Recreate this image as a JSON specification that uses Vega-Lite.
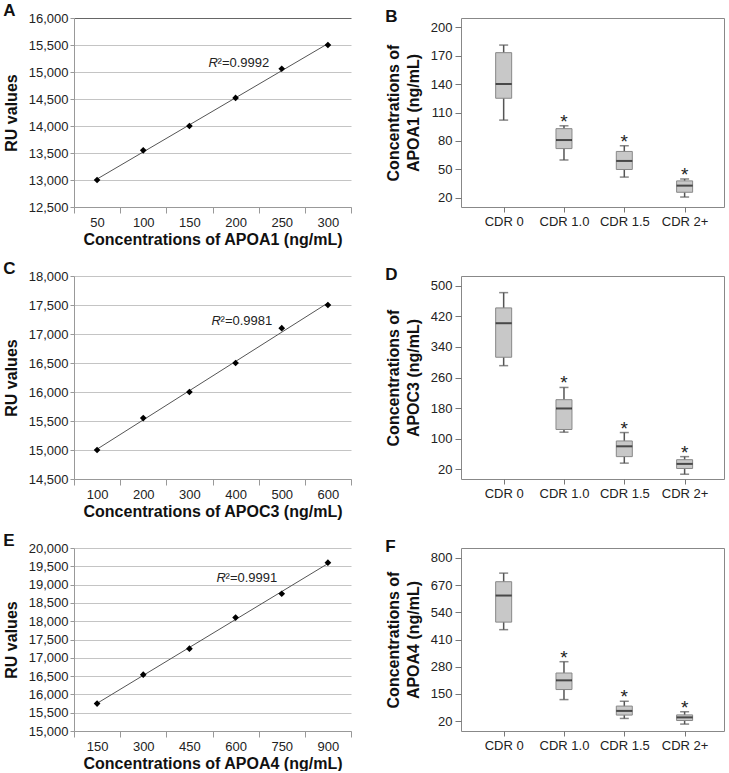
{
  "$schema": "https://vega.github.io/schema/vega-lite/v6.json",
  "background": "white",
  "padding": {"left": 3, "top": 2, "right": 2, "bottom": 0},
  "config": {
    "font": "Liberation Sans",
    "view": {"stroke": null},
    "axis": {
      "labelFont": "Liberation Sans",
      "labelFontSize": 13,
      "labelColor": "#222222",
      "titleFont": "Liberation Sans",
      "titleFontSize": 16,
      "titleFontWeight": "bold",
      "titleColor": "#111111",
      "domainColor": "#999999",
      "tickColor": "#999999",
      "gridColor": "#c4c4c4"
    },
    "title": {"font": "Liberation Sans", "fontSize": 17, "fontWeight": "bold", "color": "#111111", "anchor": "start", "frame": "bounds", "offset": -8}
  },
  "datasets": {
    "curves": [
      {"panel": "A", "conc": 50, "ru": 13000, "note": ""},
      {"panel": "A", "conc": 100, "ru": 13550, "note": ""},
      {"panel": "A", "conc": 150, "ru": 14000, "note": ""},
      {"panel": "A", "conc": 200, "ru": 14520, "note": "²=0.9992"},
      {"panel": "A", "conc": 250, "ru": 15060, "note": ""},
      {"panel": "A", "conc": 300, "ru": 15500, "note": ""},
      {"panel": "C", "conc": 100, "ru": 15000, "note": ""},
      {"panel": "C", "conc": 200, "ru": 15550, "note": ""},
      {"panel": "C", "conc": 300, "ru": 16000, "note": ""},
      {"panel": "C", "conc": 400, "ru": 16500, "note": "²=0.9981"},
      {"panel": "C", "conc": 500, "ru": 17100, "note": ""},
      {"panel": "C", "conc": 600, "ru": 17500, "note": ""},
      {"panel": "E", "conc": 150, "ru": 15750, "note": ""},
      {"panel": "E", "conc": 300, "ru": 16540, "note": ""},
      {"panel": "E", "conc": 450, "ru": 17250, "note": ""},
      {"panel": "E", "conc": 600, "ru": 18100, "note": "²=0.9991"},
      {"panel": "E", "conc": 750, "ru": 18750, "note": ""},
      {"panel": "E", "conc": 900, "ru": 19600, "note": ""}
    ],
    "boxes": [
      {"panel": "B", "group": "CDR 0", "min": 102, "q1": 125, "median": 140, "q3": 173, "max": 181, "sig": ""},
      {"panel": "B", "group": "CDR 1.0", "min": 60, "q1": 72, "median": 81, "q3": 93, "max": 96, "sig": "*"},
      {"panel": "B", "group": "CDR 1.5", "min": 42, "q1": 50, "median": 59, "q3": 69, "max": 75, "sig": "*"},
      {"panel": "B", "group": "CDR 2+", "min": 21, "q1": 26, "median": 33, "q3": 38, "max": 40, "sig": "*"},
      {"panel": "D", "group": "CDR 0", "min": 291, "q1": 313, "median": 402, "q3": 442, "max": 482, "sig": ""},
      {"panel": "D", "group": "CDR 1.0", "min": 117, "q1": 124, "median": 179, "q3": 202, "max": 234, "sig": "*"},
      {"panel": "D", "group": "CDR 1.5", "min": 36, "q1": 53, "median": 80, "q3": 94, "max": 116, "sig": "*"},
      {"panel": "D", "group": "CDR 2+", "min": 7, "q1": 22, "median": 34, "q3": 45, "max": 53, "sig": "*"},
      {"panel": "F", "group": "CDR 0", "min": 457, "q1": 493, "median": 620, "q3": 686, "max": 727, "sig": ""},
      {"panel": "F", "group": "CDR 1.0", "min": 123, "q1": 171, "median": 215, "q3": 250, "max": 304, "sig": "*"},
      {"panel": "F", "group": "CDR 1.5", "min": 33, "q1": 49, "median": 69, "q3": 92, "max": 115, "sig": "*"},
      {"panel": "F", "group": "CDR 2+", "min": 6, "q1": 23, "median": 38, "q3": 50, "max": 65, "sig": "*"}
    ]
  },
  "spacing": 13,
  "vconcat": [
    {
      "spacing": 32,
      "hconcat": [
        {
          "width": 277, "height": 189,
          "title": {"text": "A"},
          "data": {"name": "curves"},
          "transform": [{"filter": "datum.panel == 'A'"}],
          "encoding": {
            "x": {"field": "conc", "type": "quantitative",
              "scale": {"domain": [25, 325], "nice": false, "zero": false},
              "axis": {"values": [25, 50, 75, 100, 125, 150, 175, 200, 225, 250, 275, 300, 325],
                "labelExpr": "datum.value % 50 == 0 ? datum.label : ''",
                "tickOpacity": {"condition": {"test": "datum.value % 50 == 0", "value": 0}, "value": 1},
                "tickSize": 6, "labelPadding": 3, "labelOverlap": false, "labelFlush": false,
                "grid": false, "title": "Concentrations of APOA1 (ng/mL)", "titlePadding": 2}},
            "y": {"field": "ru", "type": "quantitative",
              "scale": {"domain": [12500, 16000], "nice": false, "zero": false},
              "axis": {"values": [12500, 13000, 13500, 14000, 14500, 15000, 15500, 16000], "format": ",.0f",
                "tickSize": 4, "labelPadding": 2, "grid": true,
                "gridColor": {"condition": {"test": "datum.value == 16000", "value": "#666666"}, "value": "#c4c4c4"},
                "title": "RU values", "titlePadding": 9}}
          },
          "layer": [
            {"transform": [{"regression": "ru", "on": "conc"}],
             "mark": {"type": "line", "color": "#555555", "strokeWidth": 1}},
            {"mark": {"type": "point", "shape": "diamond", "filled": true, "color": "#000000", "size": 45, "opacity": 1}},
            {"transform": [{"filter": "datum.note != ''"}],
             "mark": {"type": "text", "text": "R", "align": "left", "baseline": "middle", "fontStyle": "italic", "fontSize": 13, "color": "#222222", "dx": -27, "dy": -35}},
            {"transform": [{"filter": "datum.note != ''"}],
             "mark": {"type": "text", "align": "left", "baseline": "middle", "fontSize": 13, "color": "#222222", "dx": -18, "dy": -35},
             "encoding": {"text": {"field": "note"}}}
          ]
        },
        {
          "width": 263, "height": 189,
          "view": {"stroke": "#888888"},
          "title": {"text": "B"},
          "data": {"name": "boxes"},
          "transform": [{"filter": "datum.panel == 'B'"}],
          "encoding": {
            "x": {"field": "group", "type": "ordinal", "sort": null,
              "scale": {"type": "point", "padding": 0.68, "align": 0.52},
              "axis": {"title": null, "labelAngle": 0, "tickSize": 5, "labelPadding": 3, "domain": false, "tickColor": "#777777"}},
            "y": {"type": "quantitative",
              "scale": {"domain": [10.5, 209.5], "nice": false, "zero": false},
              "axis": {"values": [20, 50, 80, 110, 140, 170, 200], "tickSize": 6, "labelPadding": 3, "domain": false, "grid": false, "tickColor": "#777777",
                "title": ["Concentrations of", "APOA1 (ng/mL)"], "titlePadding": 9, "titleLineHeight": 20}}
          },
          "layer": [
            {"mark": {"type": "rule", "color": "#555555", "strokeWidth": 1.5}, "encoding": {"y": {"field": "min", "type": "quantitative"}, "y2": {"field": "max"}}},
            {"mark": {"type": "bar", "width": 16, "fill": "#c8c8c8", "stroke": "#888888", "strokeWidth": 1}, "encoding": {"y": {"field": "q1", "type": "quantitative"}, "y2": {"field": "q3"}}},
            {"mark": {"type": "tick", "color": "#111111", "size": 16, "thickness": 2}, "encoding": {"y": {"field": "median", "type": "quantitative"}}},
            {"mark": {"type": "tick", "color": "#555555", "size": 9, "thickness": 1.5}, "encoding": {"y": {"field": "min", "type": "quantitative"}}},
            {"mark": {"type": "tick", "color": "#555555", "size": 9, "thickness": 1.5}, "encoding": {"y": {"field": "max", "type": "quantitative"}}},
            {"mark": {"type": "text", "fontSize": 19, "baseline": "middle", "dy": -4, "color": "#222222"}, "encoding": {"y": {"field": "max", "type": "quantitative"}, "text": {"field": "sig"}}}
          ]
        }
      ]
    },
    {
      "spacing": 32,
      "hconcat": [
        {
          "width": 277, "height": 203,
          "title": {"text": "C"},
          "data": {"name": "curves"},
          "transform": [{"filter": "datum.panel == 'C'"}],
          "encoding": {
            "x": {"field": "conc", "type": "quantitative",
              "scale": {"domain": [50, 650], "nice": false, "zero": false},
              "axis": {"values": [50, 100, 150, 200, 250, 300, 350, 400, 450, 500, 550, 600, 650],
                "labelExpr": "datum.value % 100 == 0 ? datum.label : ''",
                "tickOpacity": {"condition": {"test": "datum.value % 100 == 0", "value": 0}, "value": 1},
                "tickSize": 6, "labelPadding": 3, "labelOverlap": false, "labelFlush": false,
                "grid": false, "title": "Concentrations of APOC3 (ng/mL)", "titlePadding": 2}},
            "y": {"field": "ru", "type": "quantitative",
              "scale": {"domain": [14500, 18000], "nice": false, "zero": false},
              "axis": {"values": [14500, 15000, 15500, 16000, 16500, 17000, 17500, 18000], "format": ",.0f",
                "tickSize": 4, "labelPadding": 2, "grid": true,
                "title": "RU values", "titlePadding": 9}}
          },
          "layer": [
            {"transform": [{"regression": "ru", "on": "conc"}],
             "mark": {"type": "line", "color": "#555555", "strokeWidth": 1}},
            {"mark": {"type": "point", "shape": "diamond", "filled": true, "color": "#000000", "size": 45, "opacity": 1}},
            {"transform": [{"filter": "datum.note != ''"}],
             "mark": {"type": "text", "text": "R", "align": "left", "baseline": "middle", "fontStyle": "italic", "fontSize": 13, "color": "#222222", "dx": -24, "dy": -42}},
            {"transform": [{"filter": "datum.note != ''"}],
             "mark": {"type": "text", "align": "left", "baseline": "middle", "fontSize": 13, "color": "#222222", "dx": -15, "dy": -42},
             "encoding": {"text": {"field": "note"}}}
          ]
        },
        {
          "width": 263, "height": 203,
          "view": {"stroke": "#888888"},
          "title": {"text": "D"},
          "data": {"name": "boxes"},
          "transform": [{"filter": "datum.panel == 'D'"}],
          "encoding": {
            "x": {"field": "group", "type": "ordinal", "sort": null,
              "scale": {"type": "point", "padding": 0.68, "align": 0.52},
              "axis": {"title": null, "labelAngle": 0, "tickSize": 5, "labelPadding": 3, "domain": false, "tickColor": "#777777"}},
            "y": {"type": "quantitative",
              "scale": {"domain": [-5.5, 525.5], "nice": false, "zero": false},
              "axis": {"values": [20, 100, 180, 260, 340, 420, 500], "tickSize": 6, "labelPadding": 3, "domain": false, "grid": false, "tickColor": "#777777",
                "title": ["Concentrations of", "APOC3 (ng/mL)"], "titlePadding": 9, "titleLineHeight": 20}}
          },
          "layer": [
            {"mark": {"type": "rule", "color": "#555555", "strokeWidth": 1.5}, "encoding": {"y": {"field": "min", "type": "quantitative"}, "y2": {"field": "max"}}},
            {"mark": {"type": "bar", "width": 16, "fill": "#c8c8c8", "stroke": "#888888", "strokeWidth": 1}, "encoding": {"y": {"field": "q1", "type": "quantitative"}, "y2": {"field": "q3"}}},
            {"mark": {"type": "tick", "color": "#111111", "size": 16, "thickness": 2}, "encoding": {"y": {"field": "median", "type": "quantitative"}}},
            {"mark": {"type": "tick", "color": "#555555", "size": 9, "thickness": 1.5}, "encoding": {"y": {"field": "min", "type": "quantitative"}}},
            {"mark": {"type": "tick", "color": "#555555", "size": 9, "thickness": 1.5}, "encoding": {"y": {"field": "max", "type": "quantitative"}}},
            {"mark": {"type": "text", "fontSize": 19, "baseline": "middle", "dy": -4, "color": "#222222"}, "encoding": {"y": {"field": "max", "type": "quantitative"}, "text": {"field": "sig"}}}
          ]
        }
      ]
    },
    {
      "spacing": 32,
      "hconcat": [
        {
          "width": 277, "height": 183,
          "title": {"text": "E"},
          "data": {"name": "curves"},
          "transform": [{"filter": "datum.panel == 'E'"}],
          "encoding": {
            "x": {"field": "conc", "type": "quantitative",
              "scale": {"domain": [75, 975], "nice": false, "zero": false},
              "axis": {"values": [75, 150, 225, 300, 375, 450, 525, 600, 675, 750, 825, 900, 975],
                "labelExpr": "datum.value % 150 == 0 ? datum.label : ''",
                "tickOpacity": {"condition": {"test": "datum.value % 150 == 0", "value": 0}, "value": 1},
                "tickSize": 6, "labelPadding": 3, "labelOverlap": false, "labelFlush": false,
                "grid": false, "title": "Concentrations of APOA4 (ng/mL)", "titlePadding": 2}},
            "y": {"field": "ru", "type": "quantitative",
              "scale": {"domain": [15000, 20000], "nice": false, "zero": false},
              "axis": {"values": [15000, 15500, 16000, 16500, 17000, 17500, 18000, 18500, 19000, 19500, 20000], "format": ",.0f",
                "tickSize": 4, "labelPadding": 2, "grid": true,
                "title": "RU values", "titlePadding": 9}}
          },
          "layer": [
            {"transform": [{"regression": "ru", "on": "conc"}],
             "mark": {"type": "line", "color": "#555555", "strokeWidth": 1}},
            {"mark": {"type": "point", "shape": "diamond", "filled": true, "color": "#000000", "size": 45, "opacity": 1}},
            {"transform": [{"filter": "datum.note != ''"}],
             "mark": {"type": "text", "text": "R", "align": "left", "baseline": "middle", "fontStyle": "italic", "fontSize": 13, "color": "#222222", "dx": -19, "dy": -40}},
            {"transform": [{"filter": "datum.note != ''"}],
             "mark": {"type": "text", "align": "left", "baseline": "middle", "fontSize": 13, "color": "#222222", "dx": -10, "dy": -40},
             "encoding": {"text": {"field": "note"}}}
          ]
        },
        {
          "width": 263, "height": 183,
          "view": {"stroke": "#888888"},
          "title": {"text": "F"},
          "data": {"name": "boxes"},
          "transform": [{"filter": "datum.panel == 'F'"}],
          "encoding": {
            "x": {"field": "group", "type": "ordinal", "sort": null,
              "scale": {"type": "point", "padding": 0.68, "align": 0.52},
              "axis": {"title": null, "labelAngle": 0, "tickSize": 5, "labelPadding": 3, "domain": false, "tickColor": "#777777"}},
            "y": {"type": "quantitative",
              "scale": {"domain": [-27, 847], "nice": false, "zero": false},
              "axis": {"values": [20, 150, 280, 410, 540, 670, 800], "tickSize": 6, "labelPadding": 3, "domain": false, "grid": false, "tickColor": "#777777",
                "title": ["Concentrations of", "APOA4 (ng/mL)"], "titlePadding": 9, "titleLineHeight": 20}}
          },
          "layer": [
            {"mark": {"type": "rule", "color": "#555555", "strokeWidth": 1.5}, "encoding": {"y": {"field": "min", "type": "quantitative"}, "y2": {"field": "max"}}},
            {"mark": {"type": "bar", "width": 16, "fill": "#c8c8c8", "stroke": "#888888", "strokeWidth": 1}, "encoding": {"y": {"field": "q1", "type": "quantitative"}, "y2": {"field": "q3"}}},
            {"mark": {"type": "tick", "color": "#111111", "size": 16, "thickness": 2}, "encoding": {"y": {"field": "median", "type": "quantitative"}}},
            {"mark": {"type": "tick", "color": "#555555", "size": 9, "thickness": 1.5}, "encoding": {"y": {"field": "min", "type": "quantitative"}}},
            {"mark": {"type": "tick", "color": "#555555", "size": 9, "thickness": 1.5}, "encoding": {"y": {"field": "max", "type": "quantitative"}}},
            {"mark": {"type": "text", "fontSize": 19, "baseline": "middle", "dy": -4, "color": "#222222"}, "encoding": {"y": {"field": "max", "type": "quantitative"}, "text": {"field": "sig"}}}
          ]
        }
      ]
    }
  ]
}
